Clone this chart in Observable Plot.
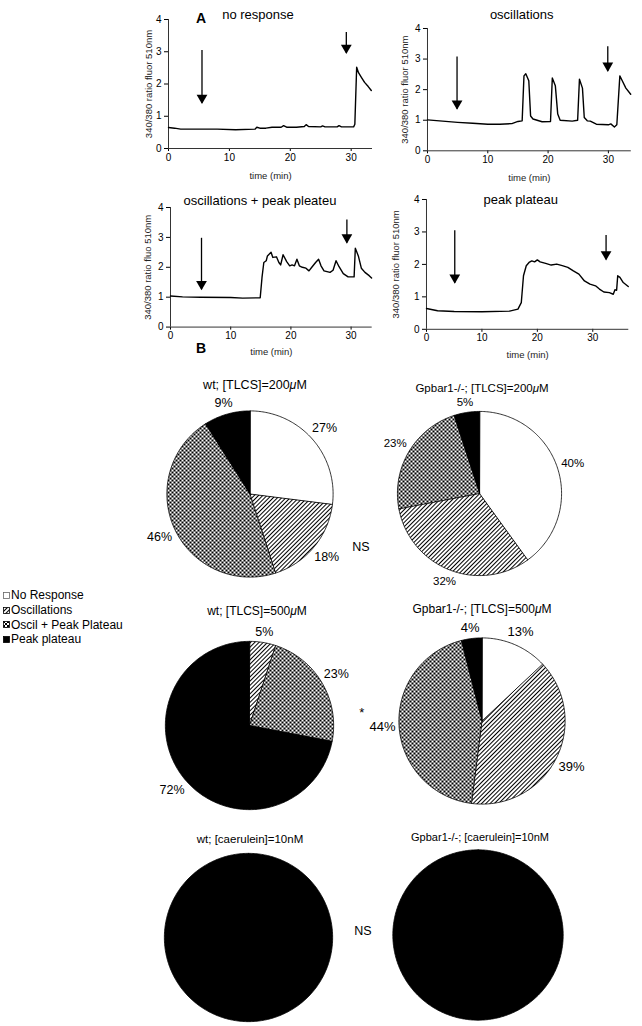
<!DOCTYPE html>
<html><head><meta charset="utf-8">
<script src="https://cdn.jsdelivr.net/npm/d3@7"></script>
<script src="https://cdn.jsdelivr.net/npm/@observablehq/plot@0.6"></script>
<style>
body{margin:0;background:#fff;font-family:"Liberation Sans",Arial,sans-serif;}
#root{position:relative;width:642px;height:1026px;overflow:hidden;background:#fff;}
.lbl{position:absolute;white-space:nowrap;transform:translate(-50%,-50%);color:#000;line-height:1;}
.leg{position:absolute;left:3px;white-space:nowrap;font-size:12px;line-height:1;display:flex;align-items:center;transform:translateY(-50%);}
.leg svg{margin-right:1px;}
</style></head><body>
<svg width="0" height="0" style="position:absolute">
<defs>
<pattern id="hatch" patternUnits="userSpaceOnUse" width="3" height="3" patternTransform="rotate(45)">
<rect width="3" height="3" fill="white"/>
<line x1="0.5" y1="0" x2="0.5" y2="3" stroke="black" stroke-width="1"/>
</pattern>
<pattern id="checker" patternUnits="userSpaceOnUse" width="4" height="4">
<rect width="4" height="4" fill="white"/>
<rect x="0" y="0" width="2" height="2" fill="black"/>
<rect x="2" y="2" width="2" height="2" fill="black"/>
</pattern>
</defs>
</svg>
<div id="root"></div>
<script>
// ---------- DATA ----------
const traceNoResponse = [[0,0.65],[1,0.63],[2,0.6],[5,0.6],[8,0.6],[11,0.58],[14.2,0.6],[14.5,0.66],[15,0.63],[16,0.63],[17,0.66],[18.5,0.66],[18.9,0.71],[19.4,0.66],[21,0.66],[22.3,0.68],[22.6,0.74],[23,0.68],[25,0.67],[25.3,0.7],[25.7,0.67],[27.7,0.67],[28,0.71],[28.4,0.67],[30.4,0.67],[30.6,0.75],[30.9,2.52],[31.2,2.35],[31.7,2.2],[32.2,2.05],[32.8,1.92],[33.3,1.8]];
const traceOscillations = [[0,1.01],[2.5,0.97],[5,0.93],[7.5,0.9],[10,0.87],[12,0.87],[14,0.89],[15,0.96],[15.7,0.98],[16,2.45],[16.3,2.52],[16.8,2.29],[17.1,1.14],[17.5,1.04],[19,0.95],[20.4,0.96],[20.7,2.38],[21.2,2.13],[21.6,1.2],[22,1.0],[24,0.97],[24.9,1.0],[25.2,2.34],[25.7,2.05],[26,1.09],[26.5,0.98],[27,0.97],[28,0.87],[30,0.85],[30.4,0.88],[31,0.78],[31.4,0.85],[31.9,2.45],[32.3,2.29],[32.9,2.05],[33.7,1.85]];
const traceOscPlateau = [[0,1.04],[2,1.01],[5,1.0],[10,0.99],[12,0.97],[14.9,0.98],[15.2,1.66],[15.5,2.16],[15.9,2.22],[16.1,2.38],[16.7,2.5],[17.0,2.33],[17.6,2.35],[18.0,2.16],[18.3,2.08],[18.7,2.42],[19.3,2.19],[19.8,2.05],[20.2,2.08],[20.6,2.05],[21,2.27],[21.4,2.05],[21.9,2.0],[22.5,1.97],[23,1.88],[23.5,2.01],[24.1,2.16],[24.6,2.27],[25,2.05],[25.5,1.88],[26.5,1.83],[27,1.9],[27.5,2.22],[28,2.02],[28.7,1.79],[29.5,1.68],[30.5,1.68],[30.7,2.64],[31.2,2.38],[31.7,1.97],[32.3,1.83],[33,1.72],[33.4,1.64]];
const tracePeakPlateau = [[0,0.64],[2,0.57],[5,0.55],[10,0.54],[15,0.56],[16.5,0.62],[17.1,0.82],[17.5,1.65],[18,1.96],[18.5,2.06],[19,2.11],[19.5,2.08],[20,2.14],[20.5,2.08],[21.5,2.03],[22.5,1.98],[23.5,2.01],[24.5,1.96],[25.5,1.91],[26.5,1.8],[27.5,1.7],[28.5,1.49],[29.5,1.39],[30.5,1.34],[31.2,1.24],[32,1.15],[33,1.13],[33.7,1.08],[34.0,1.22],[34.3,1.2],[34.5,1.65],[34.9,1.6],[35.5,1.44],[36.4,1.32]];

const arrowsNoResponse = [{t:5.5, top:3.04, tip:1.4},{t:29.2, top:3.6, tip:2.95}];
const arrowsOscillations = [{t:4.9, top:3.07, tip:1.36},{t:29.9, top:3.4, tip:2.6}];
const arrowsOscPlateau = [{t:5.15, top:2.97, tip:1.25},{t:29.3, top:3.58, tip:2.81}];
const arrowsPeakPlateau = [{t:5.1, top:3.04, tip:1.42},{t:32.4, top:2.89, tip:2.14}];

const xTicks = [0,10,20,30];
const yTicks = [0,1,2,3,4];

const categories = ["No Response","Oscillations","Oscil + Peak Plateau","Peak plateau"];
const categoryFills = ["white","url(#hatch)","url(#checker)","black"];

const pieWt200 = [27,18,46,9];
const pieKo200 = [40,32,23,5];
const pieWt500 = [0,5,23,72];
const pieKo500 = [13,39,44,4];
const pieWtCaerulein = [0,0,0,100];
const pieKoCaerulein = [0,0,0,100];

// ---------- LAYOUT ----------
const root = document.getElementById("root");
const FONT = "Liberation Sans, Arial, Helvetica, sans-serif";

function place(svg, left, top) {
  svg.style.position = "absolute";
  svg.style.left = left + "px";
  svg.style.top = top + "px";
  svg.style.maxWidth = "none";
  svg.style.background = "transparent";
  svg.style.overflow = "visible";
  root.appendChild(svg);
}
function label(html, x, y, size, extra) {
  const d = document.createElement("div");
  d.className = "lbl";
  d.style.left = x + "px";
  d.style.top = y + "px";
  d.style.fontSize = size + "px";
  if (extra) Object.assign(d.style, extra);
  d.innerHTML = html;
  root.appendChild(d);
}

function lineChart(trace, arrows, cfg) {
  const mL = 50, mR = 8, mT = 8, mB = 42;
  const fw = cfg.x1 - cfg.x0, fh = cfg.yBot - cfg.yTop;
  const svg = Plot.plot({
    width: fw + mL + mR, height: fh + mT + mB,
    marginLeft: mL, marginRight: mR, marginTop: mT, marginBottom: mB,
    style: {fontFamily: FONT, fontSize: "10px", color: "black"},
    x: {domain: [0, cfg.xMax]},
    y: {domain: [0, 4]},
    marks: [
      Plot.axisX({ticks: xTicks, tickSize: 3, tickPadding: 2, tickFormat: d => String(d), label: null, fontSize: 10}),
      Plot.axisY({ticks: yTicks, tickSize: 4, tickPadding: 3, tickFormat: d => String(d), label: null, fontSize: 10}),
      Plot.ruleY([0], {stroke: "#333", strokeWidth: 1}),
      Plot.ruleX([0], {stroke: "#333", strokeWidth: 1}),
      Plot.line(trace, {x: d => d[0], y: d => d[1], stroke: "black", strokeWidth: 1.4}),
      Plot.ruleX(arrows, {x: "t", y1: "top", y2: "tip", stroke: "black", strokeWidth: 1.3}),
      Plot.dot(arrows, {x: "t", y: "tip", symbol: "triangle", r: 4, rotate: 180, fill: "black", stroke: "none", dy: -5.6}),
      Plot.text(["time (min)"], {frameAnchor: "bottom", dy: cfg.xlabDy, fontSize: 9.5, fill: "#222"}),
      Plot.text([cfg.ylabel], {frameAnchor: "left", textAnchor: "middle", lineAnchor: "middle", rotate: -90, dx: -cfg.ylabDx, fontSize: 9.5, fill: "#222"})
    ]
  });
  place(svg, cfg.x0 - mL, cfg.yTop - mT);
  label(cfg.title, cfg.titleX, cfg.titleY, 13);
}

lineChart(traceNoResponse, arrowsNoResponse, {x0: 168.3, x1: 372.3, xMax: 33.5, yTop: 19, yBot: 148, title: "no response", titleX: 258, titleY: 13.5, ylabel: "340/380 ratio fluor 510nm", ylabDx: 20, xlabDy: 30});
lineChart(traceOscillations, arrowsOscillations, {x0: 426.7, x1: 630.5, xMax: 33.8, yTop: 27.7, yBot: 150, title: "oscillations", titleX: 521.7, titleY: 14, ylabel: "340/380 ratio fluor 510nm", ylabDx: 23, xlabDy: 30});
lineChart(traceOscPlateau, arrowsOscPlateau, {x0: 170, x1: 371.7, xMax: 33.5, yTop: 206.7, yBot: 326.3, title: "oscillations + peak pleateu", titleX: 260, titleY: 200, ylabel: "340/380 ratio fluo 510nm", ylabDx: 23, xlabDy: 28});
lineChart(tracePeakPlateau, arrowsPeakPlateau, {x0: 425.7, x1: 628, xMax: 36.5, yTop: 199, yBot: 328.8, title: "peak plateau", titleX: 520.7, titleY: 198.5, ylabel: "340/380 ratio fluor 510nm", ylabDx: 31, xlabDy: 29});

function pieChart(values, cx, cy, R, labelSize) {
  const pad = 1.45;
  const S = Math.round(2 * pad * R);
  const total = d3.sum(values);
  let acc = 0;
  const pts = [], labels = [];
  values.forEach((v, i) => {
    if (v <= 0) return;
    const a0 = acc / total * 2 * Math.PI, a1 = (acc + v) / total * 2 * Math.PI;
    acc += v;
    const n = Math.max(2, Math.ceil((a1 - a0) / (Math.PI / 180)));
    pts.push({slice: i, fill: categoryFills[i], x: 0, y: 0});
    for (let k = 0; k <= n; k++) {
      const a = a0 + (a1 - a0) * k / n;
      pts.push({slice: i, fill: categoryFills[i], x: Math.sin(a), y: Math.cos(a)});
    }
    if (v < total) {
      const am = (a0 + a1) / 2;
      const text = v + "%";
      // keep a small gap between the circle and the label box
      const halfW = text.length * 0.29 * labelSize, halfH = 0.38 * labelSize;
      const ext = Math.abs(Math.sin(am)) * halfW + Math.abs(Math.cos(am)) * halfH;
      const rr = 1 + (5 + ext) / R;
      labels.push({x: rr * Math.sin(am), y: rr * Math.cos(am), text});
    }
  });
  const svg = Plot.plot({
    width: S, height: S, margin: 0,
    style: {fontFamily: FONT, fontSize: "12px", color: "black"},
    x: {domain: [-pad, pad], axis: null},
    y: {domain: [-pad, pad], axis: null},
    color: {type: "identity"},
    marks: [
      Plot.line(pts, {x: "x", y: "y", z: "slice", fill: "fill", stroke: "black", strokeWidth: 0.8, curve: "linear-closed"}),
      Plot.text(labels, {x: "x", y: "y", text: "text", fontSize: labelSize, fill: "black"})
    ]
  });
  place(svg, cx - S / 2, cy - S / 2);
}

pieChart(pieWt200, 249.7, 493, 83, 12.5);
pieChart(pieKo200, 479, 493, 82, 11.5);
pieChart(pieWt500, 248.5, 725, 84, 12.5);
pieChart(pieKo500, 481, 720, 83, 13);
pieChart(pieWtCaerulein, 248, 937, 84, 12);
pieChart(pieKoCaerulein, 477, 934, 85, 12);

// titles and annotations
label("<b>A</b>", 201, 18, 14);
label("<b>B</b>", 201, 348, 14);
label("wt; [TLCS]=200<i>μ</i>M", 255, 385, 12.5);
label("Gpbar1-/-; [TLCS]=200<i>μ</i>M", 482, 389, 11.5);
label("wt; [TLCS]=500<i>μ</i>M", 257, 611, 12);
label("Gpbar1-/-; [TLCS]=500<i>μ</i>M", 482, 609, 12);
label("wt; [caerulein]=10nM", 250, 840, 11.5);
label("Gpbar1-/-; [caerulein]=10nM", 480, 837, 11);
label("NS", 361, 547, 12.5);
label("*", 361.7, 712, 13);
label("NS", 363, 931, 12.5);

// legend
const legY = [595, 610, 624.5, 639];
categories.forEach((c, i) => {
  const d = document.createElement("div");
  d.className = "leg";
  d.style.top = legY[i] + "px";
  d.innerHTML = `<svg width="7" height="7"><rect x="0.5" y="0.5" width="6" height="6" fill="${categoryFills[i]}" stroke="${i === 0 ? '#666' : 'black'}" stroke-width="0.8"/></svg>${c}`;
  root.appendChild(d);
});
</script>
</body></html>
